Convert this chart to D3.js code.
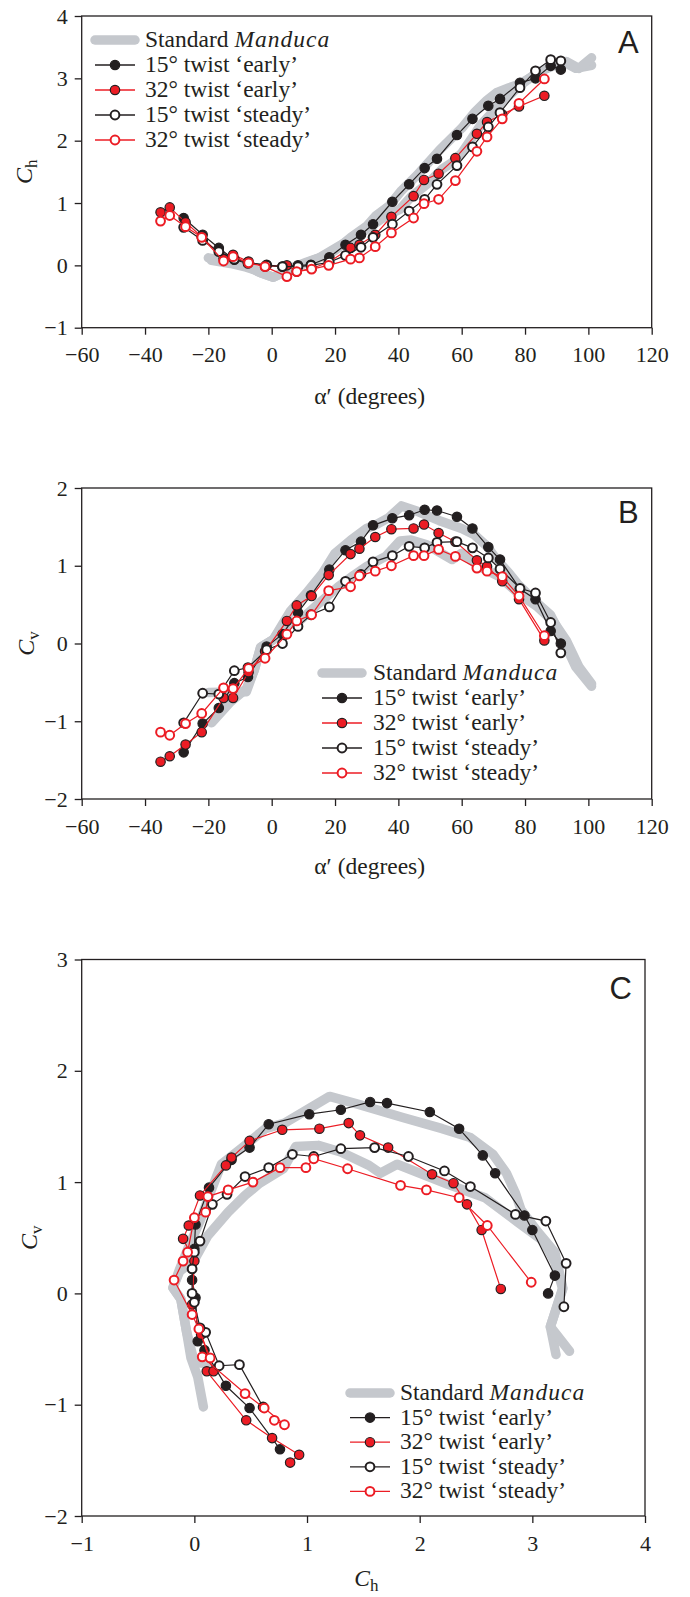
<!DOCTYPE html>
<html>
<head>
<meta charset="utf-8">
<script src="https://cdn.jsdelivr.net/npm/d3@7"></script>
<style>
body { margin: 0; background: #fff; }
svg { display: block; }
text { font-family: "Liberation Serif", "DejaVu Serif", "Times New Roman", serif; fill: #231f20; }
</style>
</head>
<body>
<svg id="fig" width="690" height="1597"></svg>
<script>
// ##### data: alpha' (deg), Ch, Cv per series #####
// 15 deg twist wings (early + steady share the same alpha samples)
var alpha15 = [-27.8, -21.8, -16.7, -11.8, -7.5, -1.6, 3.4, 8.3, 12.4, 18.2, 23.3, 28.2, 32.0, 38.1, 43.4, 48.3, 52.2, 58.5, 63.4, 68.4, 72.1, 78.4, 83.3, 88.1, 91.3];
var ch15Early = [0.76, 0.49, 0.28, 0.09, 0.03, 0.01, -0.02, 0.0, 0.01, 0.13, 0.33, 0.49, 0.66, 1.02, 1.30, 1.56, 1.71, 2.09, 2.35, 2.56, 2.67, 2.93, 3.00, 3.20, 3.14];
var cv15Early = [-1.40, -1.03, -0.83, -0.51, -0.43, -0.04, 0.12, 0.40, 0.62, 0.95, 1.20, 1.31, 1.52, 1.61, 1.65, 1.72, 1.71, 1.63, 1.48, 1.24, 1.08, 0.70, 0.57, 0.16, 0.0];
var ch15Steady = [0.61, 0.40, 0.22, 0.10, 0.05, 0.0, -0.02, -0.02, 0.0, 0.05, 0.16, 0.29, 0.45, 0.66, 0.87, 1.06, 1.30, 1.60, 1.90, 2.22, 2.45, 2.85, 3.12, 3.30, 3.28];
var cv15Steady = [-1.02, -0.64, -0.65, -0.35, -0.31, -0.08, 0.0, 0.22, 0.37, 0.47, 0.80, 0.89, 1.05, 1.13, 1.25, 1.23, 1.30, 1.31, 1.23, 1.10, 0.96, 0.71, 0.65, 0.27, -0.12];

// 32 deg twist wings
var alpha32 = [-35.1, -32.2, -27.2, -22.1, -15.2, -12.2, -7.3, -2.1, 4.8, 7.9, 12.6, 18.0, 24.9, 27.7, 32.7, 37.8, 44.8, 48.1, 52.7, 58.0, 64.8, 68.0, 72.8, 78.1, 86.1];
var ch32Early = [0.85, 0.93, 0.69, 0.46, 0.11, 0.17, 0.06, -0.02, 0.0, -0.10, -0.05, 0.05, 0.28, 0.33, 0.49, 0.78, 1.11, 1.37, 1.47, 1.72, 2.11, 2.30, 2.42, 2.55, 2.72];
var cv32Early = [-1.52, -1.45, -1.30, -1.14, -0.70, -0.70, -0.37, -0.10, 0.29, 0.49, 0.61, 0.88, 1.15, 1.22, 1.37, 1.47, 1.48, 1.53, 1.42, 1.31, 1.07, 0.99, 0.80, 0.57, 0.04];
var ch32Steady = [0.71, 0.80, 0.62, 0.45, 0.07, 0.14, 0.04, -0.02, -0.18, -0.10, -0.06, 0.0, 0.10, 0.12, 0.30, 0.52, 0.76, 0.99, 1.06, 1.36, 1.83, 2.06, 2.35, 2.60, 2.99];
var cv32Steady = [-1.14, -1.18, -1.03, -0.90, -0.57, -0.58, -0.32, -0.19, 0.12, 0.29, 0.37, 0.68, 0.73, 0.87, 0.93, 1.00, 1.13, 1.13, 1.21, 1.12, 0.97, 0.93, 0.86, 0.61, 0.10];

// standard Manduca wing: the grey band is two traces (upper and lower branch)
var stdAlpha1 = [-19, -13, -8, -5.5, -3.5, 0.5, 3, 6, 11, 16, 20, 25, 30, 33, 37, 41, 46, 53, 60, 64, 68, 71, 75, 78, 83, 88, 92, 96, 101];
var stdCh1 = [0.08, 0.03, -0.03, -0.07, -0.12, -0.19, -0.13, -0.05, 0.05, 0.14, 0.24, 0.45, 0.63, 0.80, 0.95, 1.20, 1.45, 1.85, 2.20, 2.45, 2.65, 2.77, 2.85, 2.90, 3.05, 3.20, 3.27, 3.16, 3.21];
var stdCv1 = [-1.02, -0.75, -0.58, -0.34, -0.05, 0.05, 0.22, 0.42, 0.65, 0.90, 1.16, 1.33, 1.48, 1.53, 1.62, 1.77, 1.70, 1.58, 1.48, 1.40, 1.25, 1.08, 0.90, 0.75, 0.55, 0.37, 0.05, -0.30, -0.55];
var stdAlpha2 = [-20, -8, -5.5, -3.5, 0.5, 3, 9, 15, 21, 26, 30, 36, 40.5, 44, 49, 54, 57, 60, 66, 72, 78, 84, 89, 93, 97, 101];
var stdCh2 = [0.12, 0.0, -0.07, -0.12, -0.19, -0.13, 0.0, 0.12, 0.30, 0.45, 0.58, 0.79, 0.90, 1.10, 1.30, 1.55, 1.65, 1.80, 2.25, 2.58, 2.87, 3.10, 3.20, 3.27, 3.16, 3.33];
var stdCv2 = [-0.63, -0.62, -0.34, -0.05, 0.05, 0.20, 0.30, 0.52, 0.73, 0.88, 0.99, 1.12, 1.32, 1.33, 1.27, 1.15, 1.08, 1.16, 0.98, 0.86, 0.64, 0.47, 0.28, 0.04, -0.30, -0.52];

// tick values
var alphaTicks = [-60, -40, -20, 0, 20, 40, 60, 80, 100, 120];
var chTicksA = [-1, 0, 1, 2, 3, 4];
var cvTicksB = [-2, -1, 0, 1, 2];
var chTicksC = [-1, 0, 1, 2, 3, 4];
var cvTicksC = [-2, -1, 0, 1, 2, 3];

var ink = "#231f20", red = "#ec1c24", grey = "#c5c8cd";
var serif = "'Liberation Serif', 'DejaVu Serif', 'Times New Roman', serif";

function rows(a, h, v) {
	return a.map(function(d, i) { return {alpha: d, ch: h[i], cv: v[i]}; });
}

var manduca = [rows(stdAlpha1, stdCh1, stdCv1), rows(stdAlpha2, stdCh2, stdCv2)];

var series = [
	{label: "15° twist ‘early’", data: rows(alpha15, ch15Early, cv15Early), line: ink, fill: ink, edge: ink, ew: 1.2, r: 4.7},
	{label: "32° twist ‘early’", data: rows(alpha32, ch32Early, cv32Early), line: red, fill: red, edge: ink, ew: 1.2, r: 4.7},
	{label: "15° twist ‘steady’", data: rows(alpha15, ch15Steady, cv15Steady), line: ink, fill: "#fff", edge: ink, ew: 2, r: 4.4},
	{label: "32° twist ‘steady’", data: rows(alpha32, ch32Steady, cv32Steady), line: red, fill: "#fff", edge: red, ew: 2, r: 4.4}
];

var svg = d3.select("#fig");
var fmt = d3.format("d");

function svgPanel(p) {
	var x = d3.scaleLinear().domain(p.xd).range([p.left, p.right]);
	var y = d3.scaleLinear().domain(p.yd).range([p.bottom, p.top]);
	var g = svg.append("g");

	// axes
	var ax = g.append("g")
		.attr("transform", "translate(0," + p.bottom + ")")
		.call(d3.axisBottom(x).tickValues(p.xt).tickFormat(fmt).tickSize(7).tickPadding(12));
	var ay = g.append("g")
		.attr("transform", "translate(" + p.left + ",0)")
		.call(d3.axisLeft(y).tickValues(p.yt).tickFormat(fmt).tickSize(7).tickPadding(7));
	[ax, ay].forEach(function(a) {
		a.attr("font-family", null);
		a.select(".domain").remove();
		a.selectAll("line").attr("stroke", ink).attr("stroke-width", 1.3);
		a.selectAll("text")
			.style("font-family", serif)
			.style("font-size", "22px").attr("fill", ink);
	});

	g.append("rect")
		.attr("x", p.left).attr("y", p.top)
		.attr("width", p.right - p.left).attr("height", p.bottom - p.top)
		.attr("fill", "none").attr("stroke", ink).attr("stroke-width", 1.3);

	var line = d3.line()
		.x(function(d) { return x(d[p.xk]); })
		.y(function(d) { return y(d[p.yk]); });

	// grey standard wing
	g.selectAll(".std").data(manduca).enter().append("path")
		.attr("class", "std")
		.attr("d", line)
		.attr("fill", "none").attr("stroke", grey).attr("stroke-width", 9.5)
		.attr("stroke-linecap", "round").attr("stroke-linejoin", "round");

	// model wings
	var s = g.selectAll(".wing").data(series).enter().append("g").attr("class", "wing");
	s.append("path")
		.attr("d", function(d) { return line(d.data); })
		.attr("fill", "none")
		.attr("stroke", function(d) { return d.line; })
		.attr("stroke-width", 1.2);
	s.each(function(sr) {
		d3.select(this).selectAll("circle").data(sr.data).enter().append("circle")
			.attr("cx", function(d) { return x(d[p.xk]); })
			.attr("cy", function(d) { return y(d[p.yk]); })
			.attr("r", sr.r)
			.attr("fill", sr.fill).attr("stroke", sr.edge).attr("stroke-width", sr.ew);
	});

	// panel letter
	g.append("text")
		.attr("x", p.right - 13).attr("y", p.letterY)
		.attr("text-anchor", "end")
		.style("font-family", "'Liberation Sans', Arial, sans-serif")
		.style("font-size", "31px")
		.text(p.letter);

	// legend
	var L = p.legend;
	var lg = g.append("g");
	lg.append("line")
		.attr("x1", L.x0).attr("x2", L.x1).attr("y1", L.y0).attr("y2", L.y0)
		.attr("stroke", grey).attr("stroke-width", 9.5).attr("stroke-linecap", "round");
	var t0 = lg.append("text").attr("x", L.tx).attr("y", L.y0 + 7).style("font-size", "23.5px");
	t0.append("tspan").text("Standard ");
	t0.append("tspan").style("font-style", "italic").style("letter-spacing", "1px").text("Manduca");
	series.forEach(function(sr, i) {
		var yy = L.y0 + (i + 1) * L.dy;
		lg.append("line")
			.attr("x1", L.x0).attr("x2", L.x1).attr("y1", yy).attr("y2", yy)
			.attr("stroke", sr.line).attr("stroke-width", 1.3);
		lg.append("circle")
			.attr("cx", (L.x0 + L.x1) / 2).attr("cy", yy).attr("r", sr.r)
			.attr("fill", sr.fill).attr("stroke", sr.edge).attr("stroke-width", sr.ew);
		lg.append("text").attr("x", L.tx).attr("y", yy + 7)
			.style("font-size", "23.5px").text(sr.label);
	});

	// axis titles
	var xt = g.append("text")
		.attr("x", (p.left + p.right) / 2 + 3).attr("y", p.xTitleY)
		.attr("text-anchor", "middle").style("font-size", "23.5px");
	if (p.xk === "alpha") {
		xt.text("α′ (degrees)");
	} else {
		xt.append("tspan").style("font-style", "italic").text("C");
		xt.append("tspan").attr("dy", 5).style("font-size", "17px").text("h");
	}
	var yt = g.append("text")
		.attr("transform", "translate(" + p.yTitleX + "," + ((p.top + p.bottom) / 2) + ") rotate(-90)")
		.attr("text-anchor", "middle").style("font-size", "24px");
	yt.append("tspan").style("font-style", "italic").text("C");
	yt.append("tspan").attr("dy", 5).style("font-size", "17px").text(p.yk === "ch" ? "h" : "v");
}

svgPanel({
	letter: "A", xk: "alpha", yk: "ch",
	xd: [-60, 120], yd: [-1, 4], xt: alphaTicks, yt: chTicksA,
	left: 81.7, right: 651.7, top: 16, bottom: 327.7,
	letterY: 53, xTitleY: 404, yTitleX: 32,
	legend: {x0: 95, x1: 135, tx: 145, y0: 40, dy: 25}
});
svgPanel({
	letter: "B", xk: "alpha", yk: "cv",
	xd: [-60, 120], yd: [-2, 2], xt: alphaTicks, yt: cvTicksB,
	left: 81.7, right: 651.7, top: 488, bottom: 799,
	letterY: 523, xTitleY: 874, yTitleX: 34,
	legend: {x0: 322, x1: 362, tx: 373, y0: 673, dy: 25}
});
svgPanel({
	letter: "C", xk: "ch", yk: "cv",
	xd: [-1, 4], yd: [-2, 3], xt: chTicksC, yt: cvTicksC,
	left: 81.7, right: 645, top: 959.5, bottom: 1516,
	letterY: 999, xTitleY: 1586, yTitleX: 37,
	legend: {x0: 350, x1: 390, tx: 400, y0: 1393, dy: 24.6}
});
</script>
</body>
</html>
